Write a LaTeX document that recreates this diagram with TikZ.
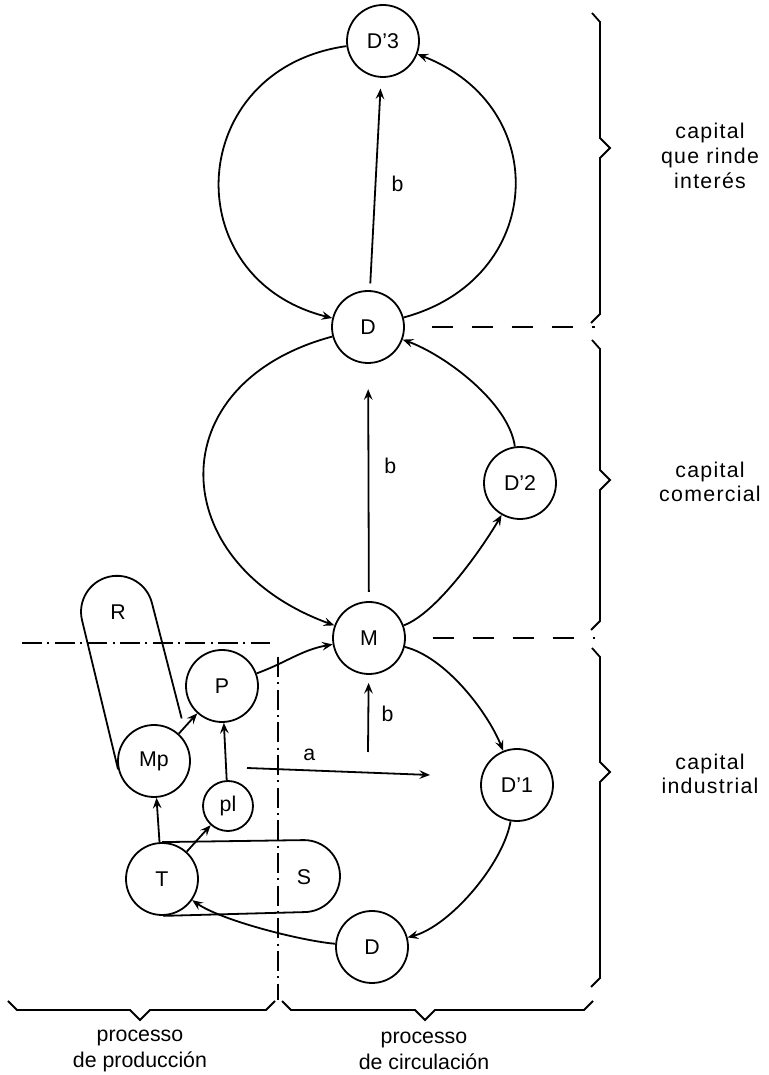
\documentclass[tikz,border=0pt]{standalone}
\usepackage{fontspec}
\setmainfont{Liberation Sans}
\newfontfamily\widefont[LetterSpace=6]{Liberation Sans}
\usetikzlibrary{arrows.meta,calc}
% side braces: x, top, tip, bottom
\newcommand{\capbrace}[4]{\draw (#1-8,#2) -- (#1,#2-9) -- (#1,#3+10) -- (#1+10,#3) -- (#1,#3-10) -- (#1,#4+9) -- (#1-9,#4);}
% bottom braces: y, left, tip, right
\newcommand{\procbrace}[4]{\draw (#2,#1+9) -- (#2+9,#1) -- (#3-10,#1) -- (#3,#1-10) -- (#3+10,#1) -- (#4-9,#1) -- (#4,#1+9);}

\begin{document}
\begin{tikzpicture}[x=0.75pt,y=0.75pt,line width=1.35pt,
	font=\fontsize{16}{20}\selectfont,
	stage/.style={circle,draw,fill=white,minimum size=54pt,inner sep=0pt},
	hull/.style={circle,minimum size=54pt,inner sep=0pt},
	flow/.style={-{Stealth[length=8pt,width=6.5pt,inset=3pt]}},
	cut/.style={dash pattern=on 16pt off 14pt},
	split/.style={line width=1pt,dash pattern=on 15pt off 4pt on 1.5pt off 4pt},
	captext/.style={align=center},
	sidetext/.style={align=center,font=\widefont\fontsize{16}{18.5}\selectfont}]
	\useasboundingbox (0,0) rectangle (768,1075);

	\node[stage] (D3) at (383,1034) {D’3};
	\node[stage] (Dt) at (368,748) {D};
	\node[stage] (D2) at (520,592) {D’2};
	\node[stage] (M) at (369,437) {M};
	\node[stage] (P) at (222,389) {P};
	\node[stage] (Mp) at (154,314) {Mp};
	\node[stage,minimum size=37.5pt] (pl) at (228,269) {pl};
	\node[stage] (T) at (162,196) {T};
	\node[stage] (D1) at (517,290) {D’1};
	\node[stage] (Db) at (372,128) {D};
	\node[hull] (R) at (118,463) {R};
	\node[hull] (S) at (304,198) {S};

	\draw (Mp.193.6) -- (R.193.6) arc[start angle=193.6,end angle=13.6,radius=27pt] -- ($(R.13.6)!0.77!(Mp.13.6)$);
	\draw (T.90) -- (S.90) arc[start angle=90,end angle=-90,radius=27pt] -- (T.272);

	\coordinate (b0) at (368,323);
	\coordinate (a0) at (247,307);
	\coordinate (a1) at (430,300);
	\coordinate (e1) at (595,748);
	\coordinate (e2) at (595,437);
	\coordinate (h0) at (22,432);
	\coordinate (h1) at (270,432);
	\coordinate (v0) at (278,418);
	\coordinate (v1) at (278,75);

	\path[flow]
	(D3) edge[out=188,in=166,looseness=1.53] (Dt)
	(Dt) edge[out=15,in=339,looseness=1.42] (D3)
	(Dt) edge[shorten <=5pt,shorten >=8pt] node[right=8pt]{b} (D3)
	(Dt) edge[out=195,in=160,looseness=1.6] (M)
	(M) edge[out=20,in=240,looseness=0.62] (D2)
	(D2) edge[out=98,in=340,looseness=0.74] (Dt)
	(M) edge[shorten <=7pt,shorten >=19pt] node[pos=0.57,right=8pt]{b} (Dt)
	(M) edge[out=346,in=112,looseness=0.75] (D1)
	(D1) edge[out=260,in=15,looseness=0.72] (Db)
	(Db) edge[out=175,in=325,looseness=0.6] (T)
	(T) edge (Mp)
	(T) edge (pl)
	(pl) edge (P)
	(Mp) edge (P)
	(P) edge[out=20,in=190] (M)
	(b0) edge[shorten >=6pt] node[right=6pt]{b} (M)
	(a0) edge node[pos=0.34,above=3pt]{a} (a1);

	\draw[cut,shorten <=20pt] (Dt) -- (e1);
	\draw[cut,shorten <=20pt] (M) -- (e2);
	\draw[split] (h0) -- (h1);
	\draw[split] (v0) -- (v1);

	\capbrace{600}{1062}{927}{752}
	\capbrace{600}{735}{595}{445}
	\capbrace{600}{427}{303}{88}
	\procbrace{65}{8}{140}{275}
	\procbrace{65}{282}{425}{593}

	\node[sidetext] (ci) at (710,919) {capital\\que rinde\\interés};
	\node[sidetext] (cc) at (710,593) {capital\\comercial};
	\node[sidetext] (cind) at (710,301) {capital\\industrial};
	\node[captext] (pp) at (140,24) {processo\\de producción};
	\node[captext] (pc) at (424,24) {processo\\de circulación};
\end{tikzpicture}
\end{document}
